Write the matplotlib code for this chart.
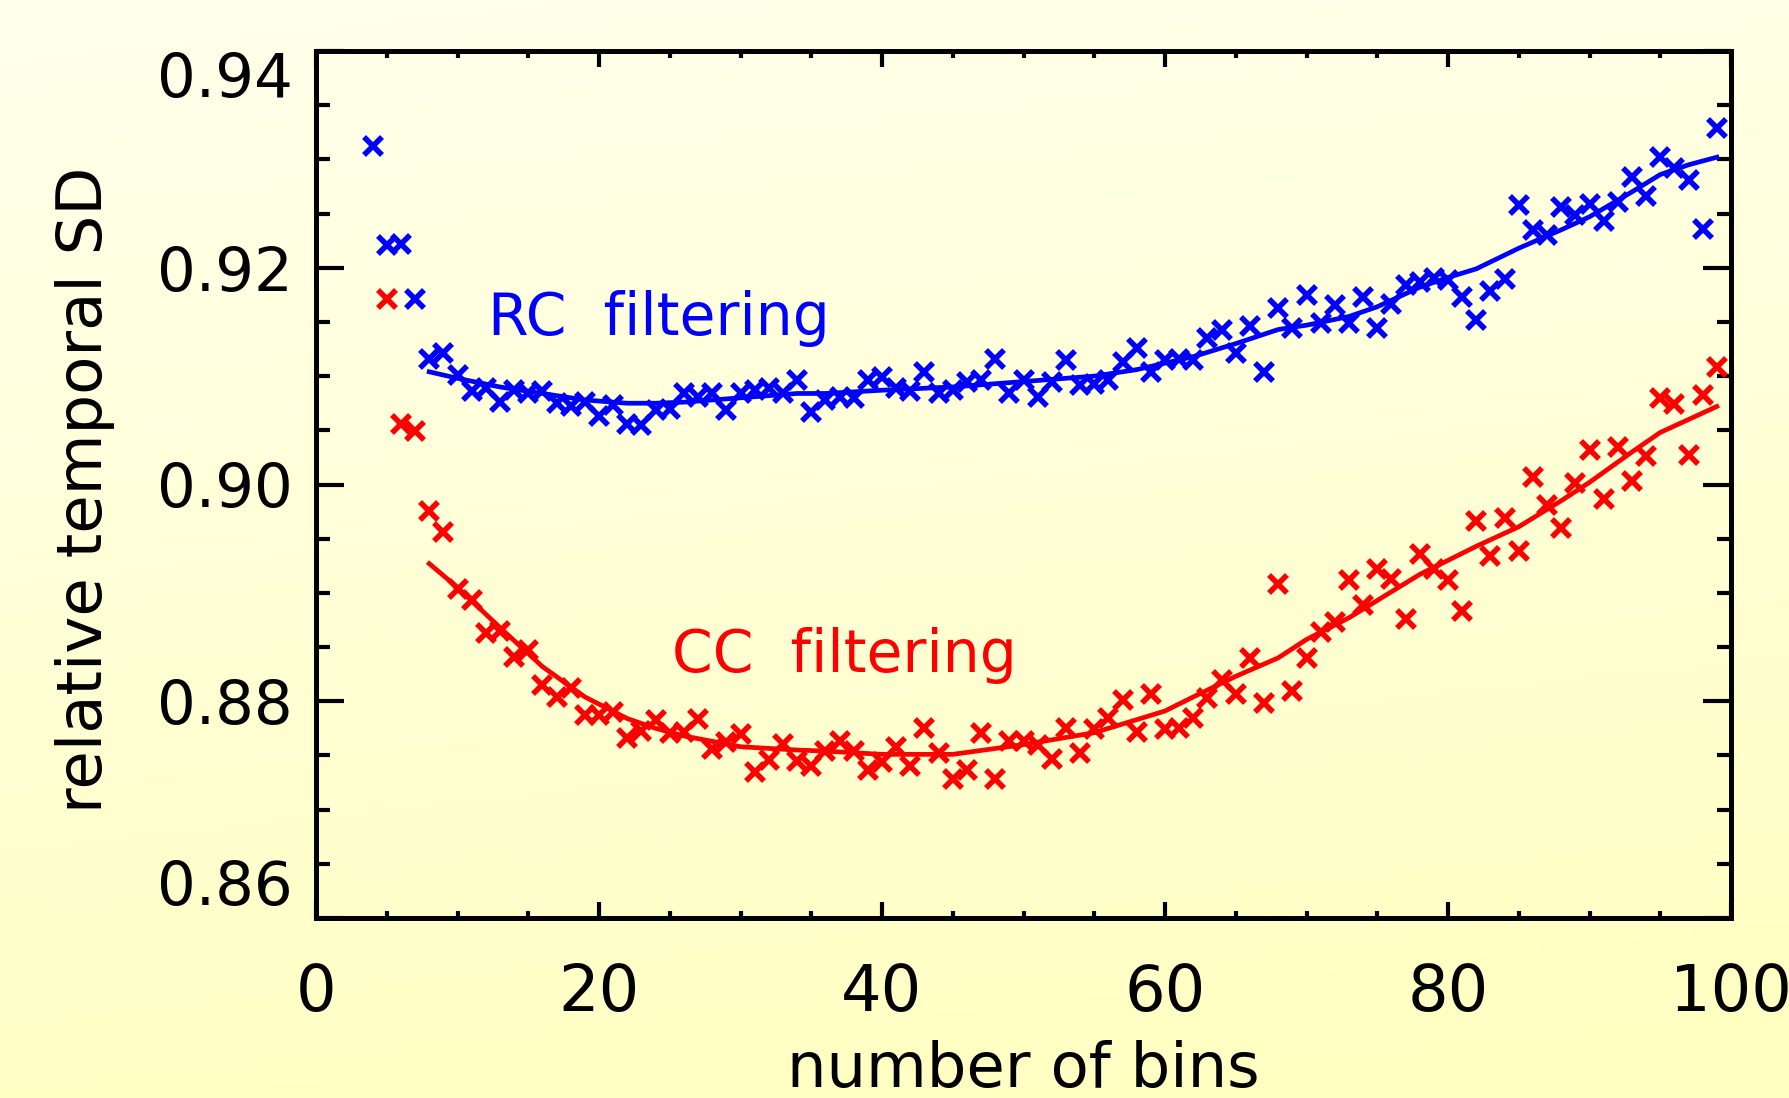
import numpy as np
import matplotlib
matplotlib.use("Agg")
import matplotlib.pyplot as plt
from matplotlib.ticker import MultipleLocator, FixedLocator

# ---------------- data ----------------
rc_bins = list(range(4, 100))
rc_values = [0.9312, 0.9221, 0.9222, 0.9171, 0.9116, 0.9121, 0.9101, 0.9086, 0.9089, 0.9076,
             0.9087, 0.9084, 0.9086, 0.9075, 0.9072, 0.9076, 0.9063, 0.9073, 0.9056, 0.9055,
             0.9069, 0.9070, 0.9084, 0.9081, 0.9084, 0.9069, 0.9084, 0.9087, 0.9089, 0.9084,
             0.9096, 0.9067, 0.9078, 0.9081, 0.9080, 0.9096, 0.9099, 0.9089, 0.9086, 0.9104,
             0.9084, 0.9087, 0.9095, 0.9096, 0.9116, 0.9084, 0.9096, 0.9081, 0.9095, 0.9115,
             0.9092, 0.9093, 0.9096, 0.9113, 0.9126, 0.9104, 0.9115, 0.9116, 0.9115, 0.9135,
             0.9143, 0.9121, 0.9146, 0.9104, 0.9163, 0.9144, 0.9175, 0.9149, 0.9166, 0.9149,
             0.9173, 0.9144, 0.9167, 0.9184, 0.9187, 0.9191, 0.9189, 0.9173, 0.9152, 0.9179,
             0.9190, 0.9258, 0.9235, 0.9230, 0.9256, 0.9249, 0.9259, 0.9243, 0.9261, 0.9284,
             0.9266, 0.9302, 0.9292, 0.9281, 0.9236, 0.9329]

cc_bins = list(range(5, 100))
cc_values = [0.9171, 0.9056, 0.9049, 0.8976, 0.8956, 0.8904, 0.8893, 0.8863, 0.8865, 0.8841,
             0.8847, 0.8815, 0.8804, 0.8812, 0.8787, 0.8787, 0.8790, 0.8766, 0.8773, 0.8783,
             0.8771, 0.8772, 0.8784, 0.8756, 0.8762, 0.8770, 0.8735, 0.8746, 0.8761, 0.8745,
             0.8740, 0.8754, 0.8763, 0.8754, 0.8737, 0.8744, 0.8758, 0.8740, 0.8775, 0.8752,
             0.8728, 0.8737, 0.8771, 0.8728, 0.8763, 0.8763, 0.8760, 0.8747, 0.8775, 0.8752,
             0.8774, 0.8785, 0.8801, 0.8772, 0.8807, 0.8774, 0.8775, 0.8785, 0.8803, 0.8820,
             0.8807, 0.8840, 0.8798, 0.8908, 0.8809, 0.8840, 0.8864, 0.8873, 0.8912, 0.8889,
             0.8922, 0.8913, 0.8876, 0.8936, 0.8922, 0.8912, 0.8883, 0.8966, 0.8934, 0.8969,
             0.8939, 0.9007, 0.8981, 0.8960, 0.9001, 0.9032, 0.8987, 0.9035, 0.9003, 0.9026,
             0.9080, 0.9074, 0.9027, 0.9083, 0.9108]

fit_bins = [8, 10, 13, 16, 19, 22, 24, 26, 30, 34, 36, 40, 45, 50, 55, 58, 60, 62, 65, 68,
            70, 73, 75, 78, 80, 82, 85, 88, 90, 93, 95, 97, 99]
rc_fit = [0.9104, 0.9098, 0.9090, 0.9084, 0.9078, 0.9075, 0.9075, 0.9076, 0.9080, 0.9084,
          0.9084, 0.9087, 0.9090, 0.9095, 0.9100, 0.9106, 0.9112, 0.9118, 0.9130, 0.9143,
          0.9147, 0.9155, 0.9164, 0.9182, 0.9191, 0.9199, 0.9218, 0.9235, 0.9247, 0.9270,
          0.9286, 0.9295, 0.9302]
cc_fit = [0.8927, 0.8905, 0.8868, 0.8832, 0.8804, 0.8784, 0.8775, 0.8768, 0.8758, 0.8755,
          0.8754, 0.8751, 0.8751, 0.8760, 0.8771, 0.8783, 0.8791, 0.8804, 0.8823, 0.8840,
          0.8857, 0.8877, 0.8893, 0.8917, 0.8930, 0.8943, 0.8961, 0.8985, 0.9002, 0.9030,
          0.9048, 0.9060, 0.9072]

x_ticks = [0, 20, 40, 60, 80, 100]
y_ticks = [0.86, 0.88, 0.90, 0.92, 0.94]
x_label = "number of bins"
y_label = "relative temporal SD"
rc_label = "RC  filtering"
cc_label = "CC  filtering"

# ---------------- figure ----------------
plt.rcParams['font.family'] = ['DejaVu Sans']
W, H, DPI = 1789, 1098, 100
fig = plt.figure(figsize=(W / DPI, H / DPI), dpi=DPI)

# background gradient
bg = fig.add_axes([0, 0, 1, 1], zorder=-10)
ny, nx = 200, 200
yy, xx = np.mgrid[0:1:ny * 1j, 0:1:nx * 1j]
t = np.clip(0.85 * yy + 0.15 * xx, 0, 1)
top = np.array([255, 255, 236]) / 255.0
bot = np.array([255, 255, 192]) / 255.0
img = top[None, None, :] * (1 - t[..., None]) + bot[None, None, :] * t[..., None]
bg.imshow(img, aspect='auto', extent=[0, 1, 0, 1], origin='upper')
bg.set_axis_off()

ax = fig.add_axes([316 / W, 1 - 918 / H, (1731 - 316) / W, (918 - 51) / H])
ax.set_facecolor('none')

ax.plot(rc_bins, rc_values, linestyle='none', marker='x', color='#0000ff',
        markersize=13.5, markeredgewidth=4.0, clip_on=False)
ax.plot(cc_bins, cc_values, linestyle='none', marker='x', color='#ff0000',
        markersize=13.5, markeredgewidth=4.0, clip_on=False)
ax.plot(fit_bins, rc_fit, color='#0000ff', linewidth=3.4)
ax.plot(fit_bins, cc_fit, color='#ff0000', linewidth=3.4)

ax.text(12.16, 0.9138, rc_label, color='#0000ff', fontsize=42, ha='left', va='baseline')
ax.text(25.16, 0.8827, cc_label, color='#ff0000', fontsize=42, ha='left', va='baseline')

ax.set_xlim(0, 100)
ax.set_ylim(0.86, 0.94)
ax.xaxis.set_major_locator(FixedLocator(x_ticks))
ax.xaxis.set_minor_locator(MultipleLocator(5))
ax.yaxis.set_major_locator(FixedLocator(y_ticks))
ax.yaxis.set_minor_locator(MultipleLocator(0.005))
ax.set_xticklabels([str(v) for v in x_ticks])
ax.set_yticklabels(["%.2f" % v for v in y_ticks])

for s in ax.spines.values():
    s.set_linewidth(3.6)
    s.set_color('black')

ax.tick_params(which='both', direction='in', top=True, right=True, color='black', width=3.0)
ax.tick_params(axis='x', which='major', length=11.5, labelsize=46, pad=32)
ax.tick_params(axis='x', which='minor', length=5)
ax.tick_params(axis='y', which='major', length=20, labelsize=44, pad=17)
ax.tick_params(axis='y', which='minor', length=10)

ax.yaxis.get_major_ticks()[0].label1.set_va('bottom')
ax.yaxis.get_major_ticks()[-1].label1.set_va('top')

ax.set_xlabel(x_label, fontsize=45)
ax.xaxis.set_label_coords(0.5, (918 - 1040) / 867)
ax.set_ylabel(y_label, fontsize=45)
ax.yaxis.set_label_coords((115 - 316) / 1415, (918 - 490) / 867)

fig.savefig("out.png", dpi=DPI)
